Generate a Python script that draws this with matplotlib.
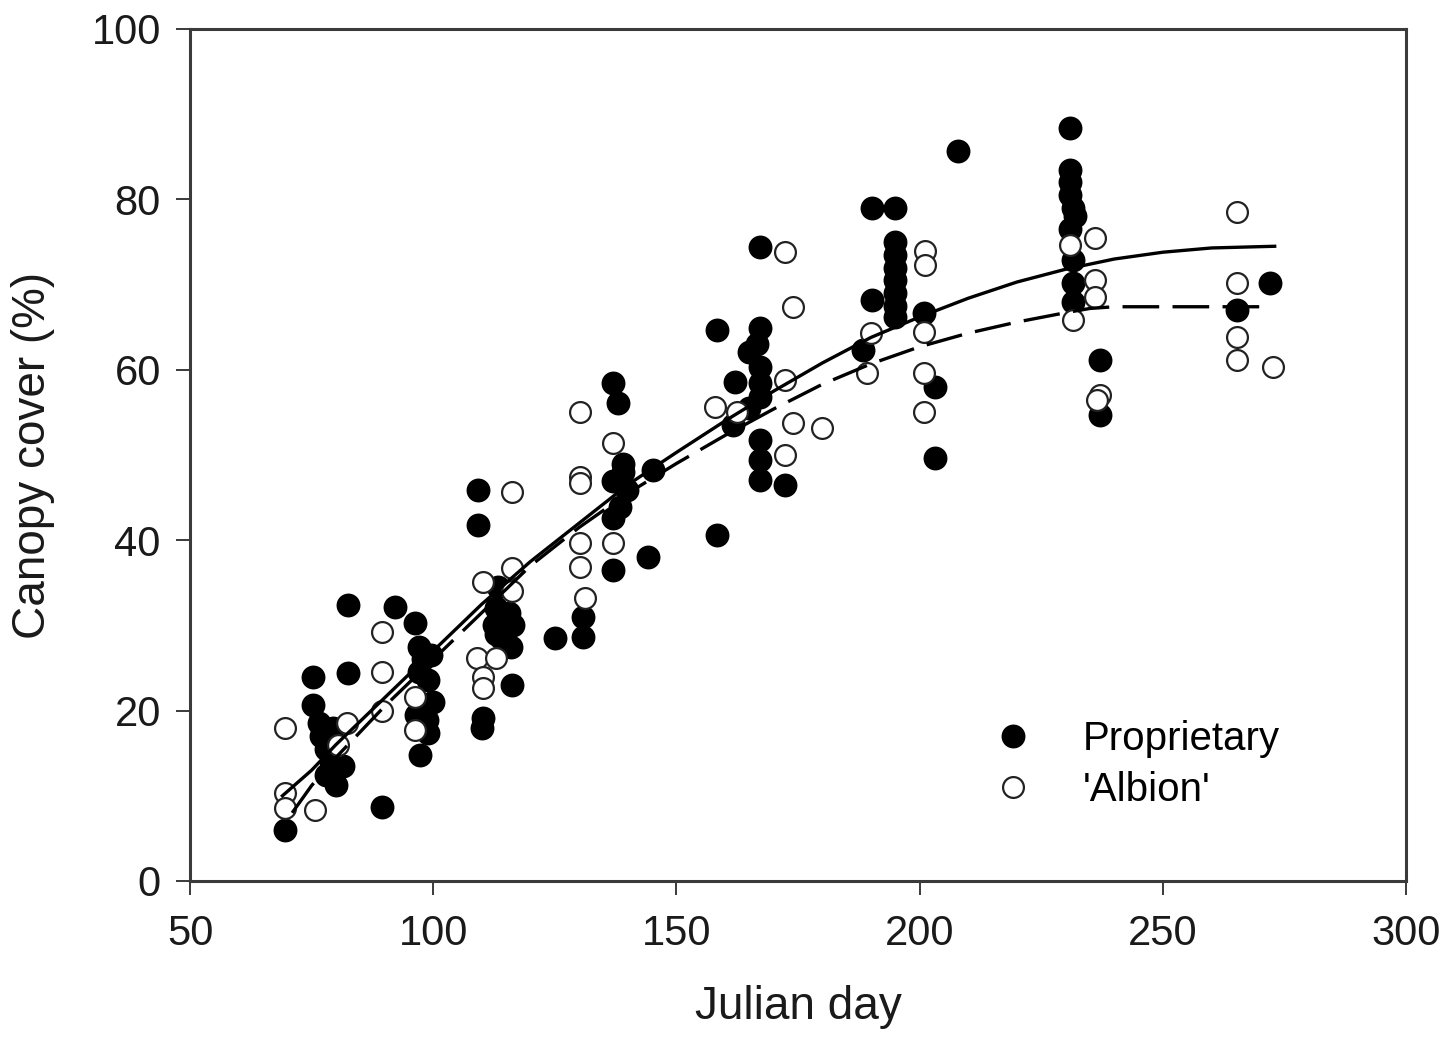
import matplotlib
matplotlib.use("Agg")
import matplotlib.pyplot as plt

plt.rcParams['font.family'] = ['Liberation Sans', 'DejaVu Sans']

# Proprietary (filled)
prop_day = [69.5, 75.3, 75.3, 76.5, 77, 78, 79, 78, 80, 81.5, 79.5, 82.5, 82.5, 89.5,
            92.1, 96.3, 97, 98, 99.5, 97, 99, 96.5, 98.7, 99, 97.3, 100,
            109.2, 109.2, 110.2, 110, 113.3, 113, 115.5, 112.5, 116.5, 114, 116, 113,
            116.2, 125, 130.8, 130.8, 137, 138, 139, 137, 139.8, 138.4, 137, 139,
            137, 144.2, 145.2,
            158.3, 158.3, 167.2, 167.2, 166.5, 165, 162, 167.2, 167.2, 167.2, 161.6,
            167.2, 167.2, 167.2, 172.3, 165,
            190.2, 195, 195, 195, 195, 195, 195, 195, 195, 190.2, 201, 188.4, 203.2,
            203.2, 207.9,
            230.9, 230.9, 230.9, 230.9, 231.5, 232, 230.9, 231.5, 231.5, 231.5, 237,
            237, 265.3, 272]
prop_cover = [6, 24, 20.7, 18.5, 17, 15.5, 14, 12.5, 11.3, 13.5, 18, 32.4, 24.4, 8.7,
              32.2, 30.3, 27.5, 26, 26.5, 24.5, 23.6, 19.5, 18.9, 17.4, 14.8, 21,
              45.9, 41.8, 19.1, 18, 34.5, 32, 31.5, 30, 30, 28.5, 27.5, 29,
              23, 28.5, 31, 28.6, 58.4, 56.1, 49, 47, 45.9, 43.9, 42.6, 48,
              36.5, 38, 48.2,
              64.7, 40.6, 74.4, 64.9, 63, 62.1, 58.6, 60.3, 58.5, 56.8, 53.5,
              51.8, 49.4, 47.1, 46.5, 55.5,
              79, 79, 75, 73.5, 72, 70.5, 69, 67.5, 66.2, 68.2, 66.7, 62.3, 58,
              49.6, 85.7,
              88.4, 83.5, 82, 80.5, 79, 78, 76.5, 72.9, 70.2, 68, 61.1,
              54.7, 67, 70.2]

# 'Albion' (open)
alb_day = [69.5, 69.5, 69.5, 75.7, 82.3, 80.5, 89.5, 89.5, 89.5, 96.3, 96.3,
           110.2, 116.2, 116.2, 109, 113, 110.2, 110.2, 116.2, 130.2, 130.2, 130.2,
           130.2, 130.2, 131.2, 137, 137,
           158, 162.4, 172.3, 174, 172.3, 174, 180, 172.3,
           201.1, 201.1, 190, 189.2, 201, 201, 201,
           230.9, 236, 236, 236, 231.5, 237, 236.5, 265.3, 265.3, 265.3, 265.3, 272.7]
alb_cover = [18, 10.3, 8.6, 8.3, 18.5, 16, 29.2, 24.5, 20, 21.6, 17.7,
             35.1, 36.7, 34, 26.2, 26.2, 24, 22.6, 45.7, 55, 47.4, 46.7,
             39.7, 36.9, 33.2, 51.4, 39.7,
             55.6, 55, 73.8, 67.4, 58.8, 53.7, 53.2, 50,
             74, 72.3, 64.3, 59.6, 64.4, 59.6, 55,
             74.6, 75.5, 70.5, 68.5, 65.8, 57, 56.5, 78.5, 70.2, 63.8, 61.2, 60.3]

# fitted curves
fit_prop_day = [69, 75, 80, 90, 100, 110, 120, 130, 140, 150, 160, 170, 180, 190, 200,
                210, 220, 230, 240, 250, 260, 273]
fit_prop_cover = [10, 13, 16, 21.5, 27, 32.5, 37.5, 42, 46.5, 50.3, 54, 57.5, 60.8,
                  63.8, 66.2, 68.4, 70.3, 71.8, 73, 73.8, 74.3, 74.5]
fit_alb_day = [71, 75, 80, 90, 100, 110, 120, 130, 140, 150, 160, 170, 180, 190, 200,
               210, 220, 230, 235, 240, 250, 260, 272]
fit_alb_cover = [8, 11.2, 14.5, 20.5, 26, 31.5, 37, 41.5, 45.5, 49, 52.3, 55.4, 58.3,
                 60.7, 62.7, 64.3, 65.6, 66.7, 67.2, 67.4, 67.4, 67.4, 67.4]

fig = plt.figure(figsize=(14.43, 10.40), dpi=100)
ax = fig.add_axes([190 / 1443, 1 - 881 / 1040, 1216 / 1443, 852 / 1040])

ax.plot(prop_day, prop_cover, 'o', ms=16, mfc='black', mec='black', mew=1.2,
        ls='none', label='Proprietary', zorder=2)
ax.plot(alb_day, alb_cover, 'o', ms=15, mfc='white', mec='#222222', mew=1.6,
        ls='none', label="'Albion'", zorder=3)
ax.plot(fit_prop_day, fit_prop_cover, '-', color='black', lw=2.4, zorder=4)
ax.plot(fit_alb_day, fit_alb_cover, '--', color='black', lw=2.4, dashes=(11, 4),
        zorder=4)

ax.set_xlim(50, 300)
ax.set_ylim(0, 100)
ax.set_xticks([50, 100, 150, 200, 250, 300])
ax.set_yticks([0, 20, 40, 60, 80, 100])

for s in ax.spines.values():
    s.set_linewidth(2.2)
    s.set_color('#3a3a3a')
ax.tick_params(axis='both', direction='out', length=10, width=1.4, colors='#3a3a3a',
               labelcolor='#1a1a1a', labelsize=30)
ax.tick_params(axis='x', pad=14)
ax.tick_params(axis='y', pad=11)

ax.set_xlabel('Julian day', fontsize=33, color='#1a1a1a', labelpad=22)
ax.set_ylabel('Canopy cover (%)', fontsize=33, color='#1a1a1a', labelpad=26)

ax.legend(loc='upper left', bbox_to_anchor=(0.66, 0.189), frameon=False,
          fontsize=29, handlelength=1.0, handletextpad=1.25, borderpad=0,
          borderaxespad=0, labelspacing=0.33, markerscale=1.0)

fig.savefig('out.png', dpi=100)
